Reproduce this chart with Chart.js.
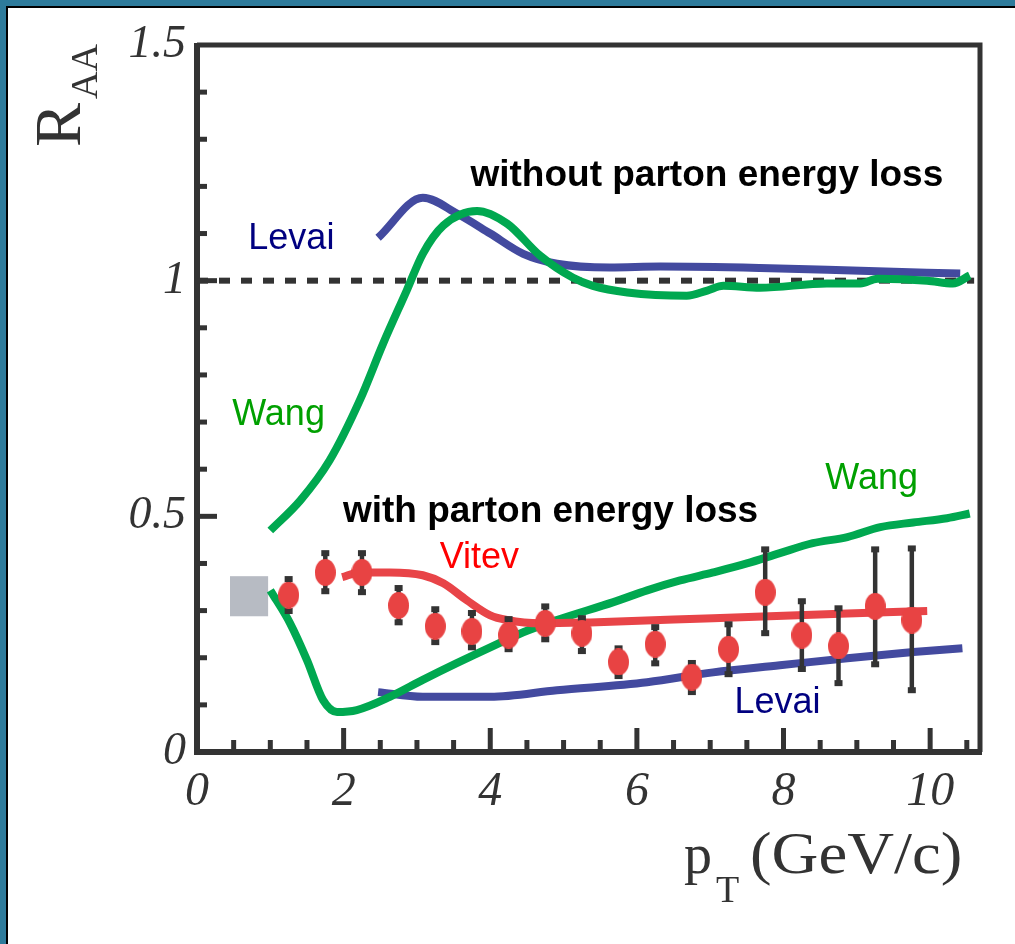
<!DOCTYPE html>
<html>
<head>
<meta charset="utf-8">
<title>R_AA vs pT</title>
<script src="https://cdn.jsdelivr.net/npm/chart.js@4.4.0/dist/chart.umd.min.js"></script>
<style>
  html, body { margin: 0; padding: 0; background: #fff; }
  #frame {
    position: absolute; left: 0; top: 0; width: 1015px; height: 944px;
    box-sizing: border-box;
    border-left: 6px solid #2e7b9b; border-top: 6px solid #2e7b9b;
  }
  #frameInner {
    width: 100%; height: 100%; box-sizing: border-box;
    border-left: 2px solid #000; border-top: 2px solid #000;
  }
  #raaChart { position: absolute; left: 0; top: 0; }
</style>
</head>
<body>
<div id="frame"><div id="frameInner"></div></div>
<canvas id="raaChart" width="1015" height="944"></canvas>
<script>
// ---- data ----
// measured points (red ellipses) with their error bars
const dataPt      = [1.25, 1.75, 2.25, 2.75, 3.25, 3.75, 4.25, 4.75, 5.25, 5.75, 6.25, 6.75, 7.25, 7.75, 8.25, 8.75, 9.25, 9.75];
const dataRaa     = [0.333, 0.381, 0.381, 0.311, 0.267, 0.256, 0.248, 0.273, 0.252, 0.191, 0.229, 0.159, 0.218, 0.339, 0.248, 0.225, 0.309, 0.280];
const dataErrLow  = [0.297, 0.339, 0.337, 0.273, 0.231, 0.220, 0.216, 0.237, 0.212, 0.159, 0.186, 0.125, 0.163, 0.250, 0.174, 0.144, 0.184, 0.129];
const dataErrHigh = [0.369, 0.424, 0.424, 0.350, 0.305, 0.297, 0.284, 0.311, 0.286, 0.222, 0.267, 0.191, 0.273, 0.432, 0.322, 0.307, 0.432, 0.434];

// normalization uncertainty box
const normBoxPt  = [0.45, 0.97];
const normBoxRaa = [0.288, 0.373];

// Levai, without energy loss
const levaiNoLossPt  = [2.47, 3.08, 3.55, 4.00, 4.45, 4.91, 5.63, 6.32, 7.68, 9.05, 10.41];
const levaiNoLossRaa = [1.091, 1.176, 1.142, 1.100, 1.057, 1.036, 1.028, 1.030, 1.027, 1.021, 1.015];

// Wang, without energy loss
const wangNoLossPt  = [1.00, 1.41, 1.81, 2.22, 2.54, 2.86, 3.08, 3.36, 3.82, 4.23, 4.68, 5.13, 5.40, 5.87, 6.68, 6.96, 7.18, 7.68, 8.59, 9.05, 9.28, 9.96, 10.31, 10.54];
const wangNoLossRaa = [0.470, 0.534, 0.619, 0.746, 0.867, 0.979, 1.057, 1.117, 1.148, 1.121, 1.053, 1.006, 0.989, 0.975, 0.968, 0.979, 0.989, 0.985, 0.994, 0.994, 1.004, 1.000, 0.994, 1.011];

// Wang, with energy loss
const wangLossPt  = [1.00, 1.27, 1.50, 1.72, 1.91, 2.18, 2.63, 3.08, 3.55, 4.00, 4.45, 4.91, 5.68, 6.14, 6.59, 7.04, 7.50, 7.95, 8.40, 8.87, 9.32, 9.77, 10.23, 10.54];
const wangLossRaa = [0.343, 0.273, 0.195, 0.110, 0.085, 0.089, 0.117, 0.153, 0.189, 0.222, 0.254, 0.280, 0.318, 0.343, 0.364, 0.381, 0.400, 0.422, 0.443, 0.456, 0.477, 0.487, 0.496, 0.506];

// Levai, with energy loss
const levaiLossPt  = [2.47, 3.08, 4.00, 4.91, 6.14, 7.04, 7.95, 8.87, 9.77, 10.44];
const levaiLossRaa = [0.127, 0.117, 0.117, 0.131, 0.148, 0.169, 0.184, 0.199, 0.212, 0.220];

// Vitev, with energy loss
const vitevPt  = [1.98, 2.22, 2.63, 3.08, 3.36, 3.68, 4.00, 4.23, 4.68, 5.36, 7.04, 8.87, 9.96];
const vitevRaa = [0.371, 0.381, 0.381, 0.375, 0.358, 0.322, 0.290, 0.280, 0.273, 0.275, 0.284, 0.294, 0.299];

// reference line R_AA = 1
const unityPt  = [0, 10.6];
const unityRaa = [1, 1];

// axes
const xTickValues = [0, 2, 4, 6, 8, 10];
const xTickLabels = ['0', '2', '4', '6', '8', '10'];
const xMinorTicks = [0.5, 1, 1.5, 2.5, 3, 3.5, 4.5, 5, 5.5, 6.5, 7, 7.5, 8.5, 9, 9.5, 10.5];
const yTickValues = [0, 0.5, 1, 1.5];
const yTickLabels = ['0', '0.5', '1', '1.5'];
const yMinorTicks = [0.1, 0.2, 0.3, 0.4, 0.6, 0.7, 0.8, 0.9, 1.1, 1.2, 1.3, 1.4];

const AXIS_COLOR = '#333333';
const SERIF = '"Liberation Serif", "Times New Roman", serif';
const SANS = '"Liberation Sans", Arial, sans-serif';

// text labels placed in data units (x = left edge, y = baseline)
const notes = [
  { text: 'without parton energy loss', x: 3.73, y: 1.201, color: '#000', bold: true },
  { text: 'with parton energy loss',    x: 1.99, y: 0.487, color: '#000', bold: true },
  { text: 'Levai', x: 0.70, y: 1.068, color: '#000080' },
  { text: 'Wang',  x: 0.48, y: 0.693, color: '#00a000' },
  { text: 'Wang',  x: 8.57, y: 0.557, color: '#00a000' },
  { text: 'Vitev', x: 3.31, y: 0.390, color: '#ff0000' },
  { text: 'Levai', x: 7.33, y: 0.083, color: '#000080' }
];

function pairs(xs, ys) {
  return xs.map((x, i) => ({ x: x, y: ys[i] }));
}

function makeEllipse(w, h, color) {
  const c = document.createElement('canvas');
  c.width = w;
  c.height = h;
  const g = c.getContext('2d');
  g.fillStyle = color;
  g.beginPath();
  g.ellipse(w / 2, h / 2, w / 2, h / 2, 0, 0, 2 * Math.PI);
  g.fill();
  return c;
}

function curve(label, xs, ys, color) {
  return {
    label: label,
    data: pairs(xs, ys),
    showLine: true,
    borderColor: color,
    backgroundColor: color,
    borderWidth: 8,
    pointRadius: 0,
    cubicInterpolationMode: 'monotone',
    borderCapStyle: 'butt',
    fill: false
  };
}

const raaPlugin = {
  id: 'raaDecor',
  beforeDatasetsDraw(chart) {
    const { ctx, scales: { x, y } } = chart;
    ctx.save();
    ctx.fillStyle = '#b7bbc3';
    const x0 = x.getPixelForValue(normBoxPt[0]);
    const x1 = x.getPixelForValue(normBoxPt[1]);
    const y0 = y.getPixelForValue(normBoxRaa[0]);
    const y1 = y.getPixelForValue(normBoxRaa[1]);
    ctx.fillRect(x0, y1, x1 - x0, y0 - y1);
    ctx.restore();
  },
  beforeDatasetDraw(chart, args) {
    if (args.index !== 0) return;
    // error bars go under the markers
    const { ctx, scales: { x, y } } = chart;
    ctx.save();
    ctx.strokeStyle = AXIS_COLOR;
    ctx.fillStyle = AXIS_COLOR;
    ctx.lineWidth = 4.5;
    dataPt.forEach((pt, i) => {
      const px = x.getPixelForValue(pt);
      const lo = y.getPixelForValue(dataErrLow[i]);
      const hi = y.getPixelForValue(dataErrHigh[i]);
      ctx.beginPath();
      ctx.moveTo(px, lo);
      ctx.lineTo(px, hi);
      ctx.stroke();
      ctx.fillRect(px - 4, hi - 2, 8, 6);
      ctx.fillRect(px - 4, lo - 4, 8, 6);
    });
    ctx.restore();
  },
  afterDraw(chart) {
    const { ctx, chartArea: a, scales: { x, y } } = chart;
    ctx.save();
    ctx.strokeStyle = AXIS_COLOR;

    // frame: heavy left/bottom, lighter top/right
    ctx.lineWidth = 5;
    ctx.beginPath();
    ctx.moveTo(a.left, a.top);
    ctx.lineTo(a.right, a.top);
    ctx.lineTo(a.right, a.bottom);
    ctx.stroke();
    ctx.lineWidth = 6;
    ctx.beginPath();
    ctx.moveTo(a.left, a.top - 2);
    ctx.lineTo(a.left, a.bottom);
    ctx.lineTo(a.right + 2, a.bottom);
    ctx.stroke();

    // inward tick marks
    ctx.lineWidth = 5;
    const yTick = (v, len) => {
      const py = y.getPixelForValue(v);
      ctx.beginPath();
      ctx.moveTo(a.left, py);
      ctx.lineTo(a.left + len, py);
      ctx.stroke();
    };
    yMinorTicks.forEach(v => yTick(v, 10));
    yTickValues.filter(v => v > 0 && v < 1.5).forEach(v => yTick(v, 20));
    const xTick = (v, len) => {
      const px = x.getPixelForValue(v);
      ctx.beginPath();
      ctx.moveTo(px, a.bottom);
      ctx.lineTo(px, a.bottom - len);
      ctx.stroke();
    };
    xMinorTicks.forEach(v => xTick(v, 12));
    xTickValues.filter(v => v > 0).forEach(v => xTick(v, 24));

    // annotations
    notes.forEach(n => {
      ctx.font = (n.bold ? 'bold 37px ' : '36px ') + SANS;
      ctx.fillStyle = n.color;
      ctx.textAlign = 'left';
      ctx.textBaseline = 'alphabetic';
      ctx.fillText(n.text, x.getPixelForValue(n.x), y.getPixelForValue(n.y));
    });

    // y title: R with subscript AA, rotated
    ctx.fillStyle = AXIS_COLOR;
    ctx.translate(80, 147);
    ctx.rotate(-Math.PI / 2);
    ctx.font = '66px ' + SERIF;
    ctx.fillText('R', 0, 0);
    const rw = ctx.measureText('R').width;
    ctx.font = '38px ' + SERIF;
    ctx.fillText('AA', rw + 4, 17);
    ctx.setTransform(1, 0, 0, 1, 0, 0);

    // x title: p with subscript T, then (GeV/c)
    ctx.font = '56px ' + SERIF;
    ctx.fillText('p', 684, 873);
    ctx.font = '38px ' + SERIF;
    ctx.fillText('T', 716, 902);
    ctx.translate(750, 873);
    ctx.scale(1.08, 1);
    ctx.font = '60px ' + SERIF;
    ctx.fillText('(GeV/c)', 0, 0);
    ctx.setTransform(1, 0, 0, 1, 0, 0);
    ctx.restore();
  }
};

const chart = new Chart(document.getElementById('raaChart'), {
  type: 'scatter',
  data: {
    datasets: [
      {
        label: 'data',
        data: pairs(dataPt, dataRaa),
        pointStyle: makeEllipse(21, 27, '#e84343'),
        pointRadius: 11,
        showLine: false
      },
      curve('Vitev', vitevPt, vitevRaa, '#e84448'),
      curve('Wang (no loss)', wangNoLossPt, wangNoLossRaa, '#00a850'),
      curve('Wang (loss)', wangLossPt, wangLossRaa, '#00a850'),
      {
        label: 'unity',
        data: pairs(unityPt, unityRaa),
        showLine: true,
        borderColor: AXIS_COLOR,
        borderWidth: 6,
        borderDash: [11, 11],
        borderCapStyle: 'butt',
        pointRadius: 0,
        fill: false
      },
      curve('Levai (no loss)', levaiNoLossPt, levaiNoLossRaa, '#434a9f'),
      curve('Levai (loss)', levaiLossPt, levaiLossRaa, '#434a9f')
    ]
  },
  options: {
    responsive: false,
    animation: false,
    layout: { padding: { left: 8, top: 45, right: 35, bottom: 0 } },
    plugins: {
      legend: { display: false },
      tooltip: { enabled: false }
    },
    scales: {
      x: {
        type: 'linear',
        min: 0,
        max: 10.68,
        afterBuildTicks: s => { s.ticks = xTickValues.map(v => ({ value: v })); },
        afterFit: s => { s.height = 192; },
        grid: { display: false, drawTicks: false },
        border: { display: false },
        ticks: {
          autoSkip: false,
          maxRotation: 0,
          padding: 12,
          color: AXIS_COLOR,
          font: { family: SERIF, style: 'italic', size: 48 },
          callback: (v, i) => xTickLabels[i]
        }
      },
      y: {
        type: 'linear',
        min: 0,
        max: 1.5,
        afterBuildTicks: s => { s.ticks = yTickValues.map(v => ({ value: v })); },
        afterFit: s => { s.width = 189; },
        grid: { display: false, drawTicks: false },
        border: { display: false },
        ticks: {
          autoSkip: false,
          padding: 11,
          color: AXIS_COLOR,
          font: { family: SERIF, style: 'italic', size: 46 },
          callback: (v, i) => yTickLabels[i]
        }
      }
    }
  },
  plugins: [raaPlugin]
});
</script>
</body>
</html>
